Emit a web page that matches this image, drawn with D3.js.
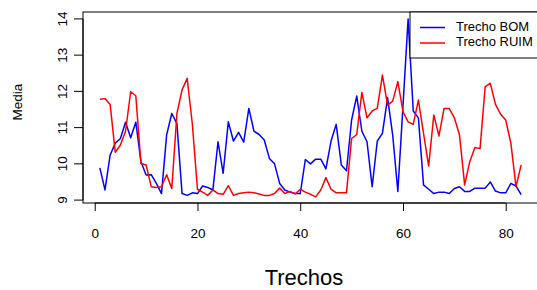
<!DOCTYPE html>
<html>
<head>
<meta charset="utf-8">
<script src="https://cdn.jsdelivr.net/npm/d3@7"></script>
<style>
  body { margin: 0; background: #fff; }
  text { font-family: "Liberation Sans", Arial, sans-serif; fill: #000; }
</style>
</head>
<body>
<div id="chart"></div>
<script>
// Values (index 1..83)
const trechoBom = [
  9.89, 9.28, 10.24, 10.57, 10.70, 11.15, 10.72, 11.15, 10.06, 9.69,
  9.70, 9.46, 9.18, 10.80, 11.39, 11.11, 9.18, 9.13, 9.20, 9.18,
  9.39, 9.35, 9.28, 10.61, 9.74, 11.16, 10.63, 10.87, 10.60, 11.53,
  10.90, 10.81, 10.66, 10.15, 10.00, 9.46, 9.28, 9.22, 9.18, 9.18,
  10.12, 10.00, 10.13, 10.13, 9.86, 10.63, 11.09, 9.97, 9.81, 11.21,
  11.87, 10.90, 10.61, 9.37, 10.63, 10.84, 11.83, 10.79, 9.24, 11.60,
  14.00, 11.46, 11.27, 9.42, 9.30, 9.18, 9.22, 9.22, 9.18, 9.32,
  9.37, 9.24, 9.24, 9.33, 9.33, 9.33, 9.50, 9.25, 9.20, 9.20,
  9.46, 9.39, 9.15
];
const trechoRuim = [
  11.78, 11.80, 11.64, 10.32, 10.52, 10.90, 11.99, 11.88, 10.01, 9.97,
  9.37, 9.35, 9.37, 9.70, 9.32, 11.39, 12.04, 12.36, 11.10, 9.30,
  9.22, 9.13, 9.28, 9.18, 9.16, 9.40, 9.13, 9.18, 9.20, 9.22,
  9.20, 9.17, 9.13, 9.13, 9.18, 9.33, 9.18, 9.24, 9.17, 9.30,
  9.22, 9.16, 9.09, 9.28, 9.62, 9.30, 9.20, 9.20, 9.20, 10.70,
  10.81, 11.97, 11.27, 11.46, 11.53, 12.45, 11.62, 11.73, 12.27, 11.44,
  11.16, 11.09, 11.76, 10.84, 9.94, 11.35, 10.77, 11.53, 11.53, 11.27,
  10.80, 9.42, 10.06, 10.45, 10.42, 12.13, 12.22, 11.64, 11.37, 11.21,
  10.57, 9.37, 9.97
];
const xTicks = [0, 20, 40, 60, 80];
const yTicks = [9, 10, 11, 12, 13, 14];
const seriesNames = ["Trecho BOM", "Trecho RUIM"];
const seriesColors = ["#0000ff", "#ff0000"];

const width = 537, height = 290;
const box = { left: 83, right: 538, top: 12, bottom: 203 };

const svg = d3.select("#chart").append("svg")
  .attr("width", width)
  .attr("height", height);

const x = d3.scaleLinear().domain([-2.28, 86.28]).range([box.left, box.right]);
const y = d3.scaleLinear().domain([8.92, 14.19]).range([box.bottom, box.top]);

// Series lines
const line = d3.line()
  .x((d, i) => x(i + 1))
  .y(d => y(d));

[trechoBom, trechoRuim].forEach((s, k) => {
  svg.append("path")
    .datum(s)
    .attr("d", line)
    .attr("fill", "none")
    .attr("stroke", seriesColors[k])
    .attr("stroke-width", 1.5)
    .attr("stroke-linejoin", "round");
});

// Plot box
svg.append("rect")
  .attr("x", box.left)
  .attr("y", box.top)
  .attr("width", box.right - box.left)
  .attr("height", box.bottom - box.top)
  .attr("fill", "none")
  .attr("stroke", "#000")
  .attr("stroke-width", 1);

// X axis (R style: ticks outward, labels below)
const xAxis = svg.append("g").attr("transform", `translate(0,${box.bottom})`)
  .call(d3.axisBottom(x).tickValues(xTicks).tickSize(8).tickPadding(17));
xAxis.select(".domain").attr("d", `M${x(0)},0H${x(80)}`).attr("stroke-width", 1);
xAxis.selectAll("text").style("font-size", "13.5px").style("font-family", "Liberation Sans, Arial, sans-serif");

// Y axis with rotated labels
const yAxis = svg.append("g").attr("transform", `translate(${box.left},0)`)
  .call(d3.axisLeft(y).tickValues(yTicks).tickFormat(d3.format("d")).tickSize(9));
yAxis.select(".domain").attr("d", `M0,${y(9)}V${y(14)}`).attr("stroke-width", 1);
yAxis.selectAll("text")
  .attr("x", null).attr("dy", null)
  .attr("transform", d => `translate(-20,${y(d)}) rotate(-90)`)
  .attr("y", 0)
  .attr("text-anchor", "middle")
  .attr("dominant-baseline", "middle")
  .style("font-size", "13.5px")
  .style("font-family", "Liberation Sans, Arial, sans-serif");
yAxis.selectAll(".tick").attr("transform", null);
yAxis.selectAll(".tick line").attr("y1", d => y(d)).attr("y2", d => y(d));

// Axis titles
svg.append("text")
  .attr("x", 304).attr("y", 285)
  .attr("text-anchor", "middle")
  .style("font-size", "22px")
  .text("Trechos");

svg.append("text")
  .attr("transform", `translate(22,102) rotate(-90)`)
  .attr("text-anchor", "middle")
  .style("font-size", "13.5px")
  .text("Media");

// Legend
const legend = svg.append("g");
legend.append("rect")
  .attr("x", 410).attr("y", box.top)
  .attr("width", 140).attr("height", 46)
  .attr("fill", "#fff")
  .attr("stroke", "#000");
seriesNames.forEach((name, k) => {
  const ly = 27.5 + k * 15.5;
  legend.append("line")
    .attr("x1", 420).attr("x2", 445)
    .attr("y1", ly).attr("y2", ly)
    .attr("stroke", seriesColors[k])
    .attr("stroke-width", 1.5);
  legend.append("text")
    .attr("x", 456).attr("y", ly)
    .attr("dominant-baseline", "middle")
    .style("font-size", "13px")
    .text(name);
});
</script>
</body>
</html>
